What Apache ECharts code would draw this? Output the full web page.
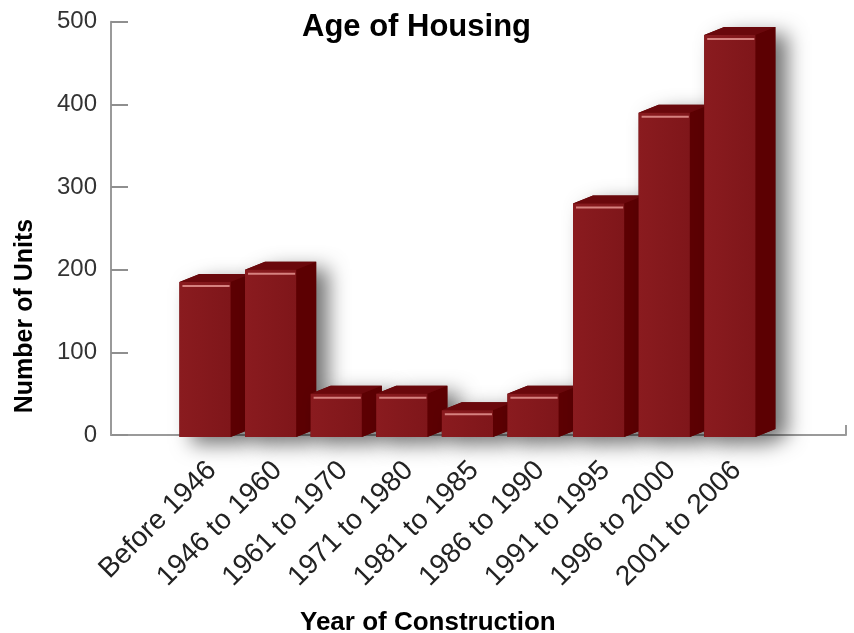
<!DOCTYPE html>
<html>
<head>
<meta charset="utf-8">
<script src="https://cdn.jsdelivr.net/npm/echarts@6/dist/echarts.min.js"></script>
<style>
html,body{margin:0;padding:0;background:#fff;}
#chart{width:854px;height:633px;}
</style>
</head>
<body>
<div id="chart"></div>
<script>
const categories = ['Before 1946','1946 to 1960','1961 to 1970','1971 to 1980','1981 to 1985','1986 to 1990','1991 to 1995','1996 to 2000','2001 to 2006'];
const units = [185, 200, 50, 50, 30, 50, 280, 390, 484];
const yTicks = [0, 100, 200, 300, 400, 500];
const chartTitle = 'Age of Housing';
const xTitle = 'Year of Construction';
const yTitle = 'Number of Units';

const chart = echarts.init(document.getElementById('chart'), null, {renderer:'canvas'});

const DX = 20, DY = -8;
function renderBar(params, api){
  const i = api.value(0), v = api.value(1);
  const top = api.coord([i, v]);
  const base = api.coord([i, 0]);
  const cw = api.size([1, 0])[0];
  const w = cw * 0.78;
  const left = top[0] - w/2 - 7;
  const right = left + w;
  const yt = top[1];
  const yb = base[1] + 2;
  return {
    type:'group',
    children:[
      {type:'polygon', shape:{points:[[left,yb],[left,yt],[left+DX,yt+DY],[right+DX,yt+DY],[right+DX,yb+DY],[right,yb]]},
        style:{fill:'#5e0003', shadowBlur:20, shadowOffsetX:12, shadowOffsetY:7, shadowColor:'rgba(0,0,0,0.55)'}},
      {type:'polygon', shape:{points:[[right,yt],[right+DX,yt+DY],[right+DX,yb+DY],[right,yb]]},
        style:{fill:'#5c0002'}},
      {type:'polygon', shape:{points:[[left,yt],[left+DX,yt+DY],[right+DX,yt+DY],[right,yt]]},
        style:{fill:'#6a080c'}},
      {type:'rect', shape:{x:left, y:yt, width:w, height:yb-yt},
        style:{fill:new echarts.graphic.LinearGradient(0,0,1,0,[{offset:0,color:'#8a1b1f'},{offset:1,color:'#7f161a'}])}},
      {type:'line', shape:{x1:left+3, y1:yt+4, x2:right-1, y2:yt+4},
        style:{stroke:'#d6817f', lineWidth:2}}
    ]
  };
}

const option = {
  backgroundColor:'#ffffff',
  animation:false,
  title:[
    {text:chartTitle, left:297, top:7, textStyle:{fontFamily:'Liberation Sans', fontSize:31, fontWeight:'bold', color:'#000'}},
    {text:xTitle, left:295, top:605, textStyle:{fontFamily:'Liberation Sans', fontSize:26, fontWeight:'bold', color:'#000'}}
  ],
  graphic:[
    {type:'text', x:25, y:316, rotation:Math.PI/2,
      style:{text:yTitle, fontFamily:'Liberation Sans', fontSize:25, fontWeight:'bold', fill:'#000', align:'center', verticalAlign:'middle'}}
  ],
  grid:[
    {left:111, right:8, top:21.7, bottom:198},
    {left:179.2, right:84.4, top:21.7, bottom:198}
  ],
  xAxis:[
    {gridIndex:0, type:'value', min:0, max:1, interval:1,
      axisLine:{show:true, lineStyle:{color:'#9a9a9a', width:2}},
      axisTick:{show:true, inside:true, length:10, lineStyle:{color:'#9a9a9a', width:2}},
      axisLabel:{show:false}, splitLine:{show:false}},
    {gridIndex:1, type:'category', data:categories,
      axisLine:{show:false}, axisTick:{show:false}, splitLine:{show:false},
      axisLabel:{rotate:45, margin:31, interval:0, fontFamily:'Liberation Sans', fontSize:28, color:'#222'}}
  ],
  yAxis:[
    {gridIndex:0, type:'value', min:0, max:500, interval:100,
      axisLine:{show:true, lineStyle:{color:'#9a9a9a', width:2}},
      axisTick:{show:true, inside:true, length:17, lineStyle:{color:'#8f8f8f', width:2}},
      axisLabel:{margin:14, fontFamily:'Liberation Sans', fontSize:24, color:'#333',
        formatter:function(v){ return yTicks.indexOf(v) >= 0 ? String(v) : ''; }},
      splitLine:{show:false}},
    {gridIndex:1, type:'value', min:0, max:500, show:false, splitLine:{show:false}}
  ],
  series:[
    {type:'custom', xAxisIndex:1, yAxisIndex:1, renderItem:renderBar,
      data:categories.map(function(c, i){ return [i, units[i]]; })}
  ]
};
chart.setOption(option);
</script>
</body>
</html>
